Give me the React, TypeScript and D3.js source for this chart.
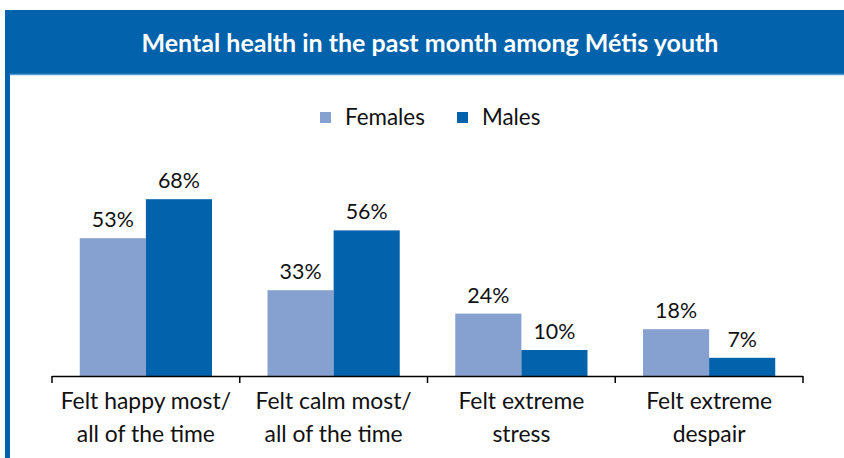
import React from "react";
import * as d3 from "d3";

const categories = [
  ["Felt happy most/", "all of the time"],
  ["Felt calm most/", "all of the time"],
  ["Felt extreme", "stress"],
  ["Felt extreme", "despair"],
];
const seriesNames = ["Females", "Males"];
const females = [53, 33, 24, 18];
const males = [68, 56, 10, 7];
const colors = ["#86a0cf", "#0262ab"];
const title = "Mental health in the past month among Métis youth";

const W = 844;
const H = 458;
const FONT = "Lato, 'Open Sans', sans-serif";

export default function App() {
  const x = d3.scaleBand<number>().domain(d3.range(categories.length)).range([52, 803]).paddingInner(0).paddingOuter(0);
  const xs = d3.scaleBand<number>().domain([0, 1]).range([0, x.bandwidth()]).paddingOuter(0.42).paddingInner(0);
  const y = d3.scaleLinear().domain([0, 100]).range([376, 116]);
  const series = [females, males];
  const ticks = d3.range(categories.length + 1).map((i) => 52 + (i * (803 - 52)) / categories.length);
  return (
    <svg width={W} height={H} style={{ position: "fixed", left: 0, top: 0, background: "#fff" }} fontFamily={FONT}>
      <rect x={0} y={0} width={W} height={H} fill="#fff" />
      <path d={`M5,${H} L5,17 Q5,10 12,10 L${W},10 L${W},74 L5,74`} fill="#0262ab" />
      <rect x={5} y={10} width={5} height={H - 10} fill="#0262ab" />
      <line x1={10} x2={W} y1={74.5} y2={74.5} stroke="#5a9ad0" strokeWidth={1.5} />
      <text x={430} y={52} textAnchor="middle" fill="#fff" fontWeight={700} fontSize={25}>{title}</text>
      {seriesNames.map((n, i) => {
        const lx = [320, 457][i];
        return (
          <g key={n}>
            <rect x={lx} y={112} width={11} height={11} fill={colors[i]} />
            <text x={lx + 25} y={125} fontSize={22.4} fill="#111">{n}</text>
          </g>
        );
      })}
      {series.map((vals, si) =>
        vals.map((v, ci) => {
          const bx = (x(ci) ?? 0) + (xs(si) ?? 0);
          return (
            <g key={`${si}-${ci}`}>
              <rect x={bx} y={y(v)} width={xs.bandwidth()} height={y(0) - y(v)} fill={colors[si]} />
              <text x={bx + xs.bandwidth() / 2} y={y(v) - 11} textAnchor="middle" fontSize={21.4} fill="#111">{v}%</text>
            </g>
          );
        })
      )}
      <line x1={52} x2={803} y1={376.5} y2={376.5} stroke="#000" strokeWidth={1.5} />
      {ticks.map((t, i) => (
        <line key={i} x1={t} x2={t} y1={376} y2={383} stroke="#000" strokeWidth={1.5} />
      ))}
      {categories.map((lines, ci) => (
        <text key={ci} x={(x(ci) ?? 0) + x.bandwidth() / 2} textAnchor="middle" fontSize={22.9} fill="#111">
          {lines.map((l, li) => (
            <tspan key={li} x={(x(ci) ?? 0) + x.bandwidth() / 2} y={409 + li * 32.5}>{l}</tspan>
          ))}
        </text>
      ))}
    </svg>
  );
}
